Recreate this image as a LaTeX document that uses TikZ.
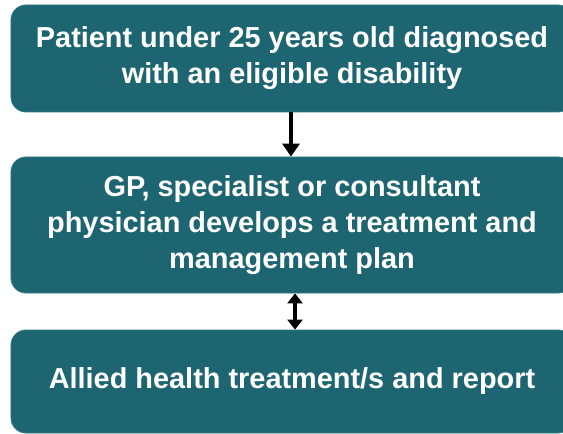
\documentclass[tikz,border=0pt]{standalone}
\usepackage{fontspec}
\setmainfont{Liberation Sans}
\usetikzlibrary{arrows.meta}
\definecolor{teal}{HTML}{1D6570}
\definecolor{tealedge}{HTML}{2C7B86}
\tikzset{stepbox/.style={rectangle, rounded corners=15bp, fill=teal, draw=tealedge,
    line width=0.8bp, text=white, font=\bfseries\fontsize{29}{36}\selectfont,
    align=center, minimum width=562bp, inner sep=0pt},
  link/.style={line width=3.6bp, -{Triangle[length=13bp,width=17bp]}}}

\begin{document}
\begin{tikzpicture}[x=1bp,y=-1bp]
    \useasboundingbox (0,0) rectangle (563,434);
    \clip (0,0) rectangle (563,434);
    \node[stepbox, minimum height=107bp] (patient) at (292,58.5)
      {Patient under 25 years old diagnosed\\with an eligible disability};
    \node[stepbox, minimum height=136bp] (plan) at (292,225)
      {GP, specialist or consultant\\physician develops a treatment and\\management plan};
    \node[stepbox, minimum height=103bp] (report) at (292,381.5)
      {Allied health treatment/s and report};
    \draw[link] (patient.south -| 291,0) -- (plan.north -| 291,0);
    \draw[link, {Triangle[length=10bp,width=15bp]}-{Triangle[length=10bp,width=15bp]}]
      (plan.south -| 295,0) -- (report.north -| 295,0);
  \end{tikzpicture}
\end{document}
